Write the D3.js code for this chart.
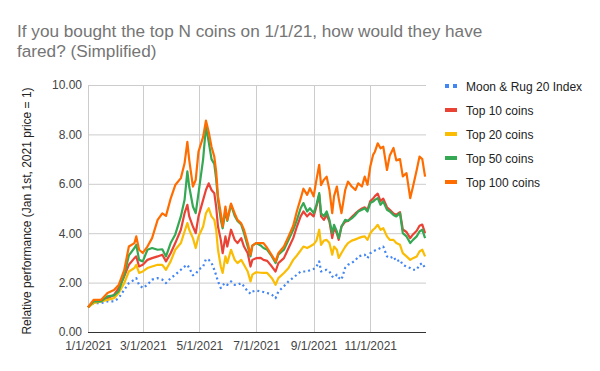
<!DOCTYPE html>
<html><head><meta charset="utf-8">
<script src="https://cdn.jsdelivr.net/npm/d3@7"></script>
<style>body{margin:0;background:#fff}svg{display:block}</style>
</head><body>
<svg id="c" width="600" height="371"></svg>
<script>
// Day offsets from 1 Jan 2021
const dayOffsets = [0,6,14,21,28,33,39,44,50,52,55,59,64,69,75,80,84,89,94,100,104,107,109,113,116,119,124,127,130,133,136,138,140,143,145,148,150,154,158,161,165,168,172,175,177,181,186,189,193,198,202,205,211,216,221,225,229,232,236,239,243,246,249,251,254,257,260,263,265,268,270,273,277,280,284,288,291,295,298,301,304,307,309,312,315,318,322,325,329,332,336,339,343,347,350,354,357,360,363];

const moonRug = [1.0,1.17,1.17,1.24,1.24,1.37,1.71,1.98,2.12,2.18,1.91,1.78,1.91,2.12,2.18,2.12,1.98,2.18,2.32,2.52,2.65,2.72,2.59,2.3,2.35,2.52,2.65,2.95,2.92,2.8,2.52,2.3,2.05,1.78,1.9,1.98,1.91,2.05,1.91,1.91,1.98,1.85,1.64,1.55,1.64,1.68,1.64,1.62,1.58,1.51,1.37,1.64,1.85,2.05,2.2,2.32,2.45,2.45,2.45,2.5,2.55,2.65,2.86,2.45,2.5,2.52,2.45,2.25,2.2,2.32,2.2,2.12,2.6,2.72,2.8,2.9,3.06,3.1,3.13,2.99,3.19,3.26,3.3,3.35,3.4,3.46,3.06,2.99,3.06,2.86,2.92,2.72,2.65,2.59,2.52,2.52,2.72,2.79,2.59];

const top10 = [1.0,1.24,1.3,1.37,1.5,1.78,2.25,2.72,2.99,3.06,2.65,2.72,2.92,2.99,3.06,3.13,2.86,3.19,3.6,4.14,4.81,5.15,4.68,4.27,4.0,4.68,5.35,5.75,6.02,5.75,5.62,5.08,4.27,3.73,3.19,3.87,3.46,4.14,3.73,3.6,3.8,3.46,3.19,2.65,2.92,2.99,3.0,2.92,2.88,2.65,2.45,2.79,2.99,3.4,3.8,4.27,4.68,4.88,4.68,4.81,4.68,5.08,5.55,4.68,4.54,4.74,4.47,3.8,4.2,4.0,3.73,4.27,4.47,4.5,4.65,4.8,4.9,5.0,5.05,4.95,5.3,5.4,5.5,5.6,5.3,5.4,5.05,4.95,4.8,4.75,4.85,4.15,4.05,3.8,3.95,4.1,4.3,4.35,4.0];

const top20 = [1.0,1.17,1.24,1.3,1.37,1.58,1.98,2.45,2.59,2.72,2.39,2.45,2.59,2.65,2.72,2.72,2.52,2.86,3.33,3.6,4.07,4.41,4.14,3.8,3.4,3.87,4.27,4.81,5.01,4.68,4.54,4.14,3.33,2.65,2.39,3.06,2.79,3.33,2.92,2.79,2.92,2.72,2.45,2.05,2.32,2.42,2.4,2.39,2.39,2.18,1.91,2.18,2.39,2.59,2.92,3.1,3.3,3.46,3.4,3.46,3.55,3.7,4.14,3.53,3.7,3.73,3.6,3.13,3.46,3.33,3.0,3.2,3.45,3.6,3.7,3.75,3.8,3.85,3.87,3.73,4.0,4.14,4.2,4.34,4.14,4.2,3.87,3.73,3.73,3.6,3.53,3.19,3.06,2.92,2.99,3.06,3.26,3.33,3.06];

const top50 = [1.0,1.24,1.24,1.44,1.48,1.65,2.3,3.1,3.4,3.53,2.92,2.86,3.33,3.4,3.33,3.35,3.06,3.6,3.95,4.68,5.35,6.5,5.89,5.08,4.81,5.62,7.0,8.32,7.7,7.0,6.8,6.2,5.35,4.54,4.2,4.9,4.5,5.15,4.7,4.5,4.35,4.0,3.46,3.06,3.5,3.6,3.5,3.4,3.33,3.06,2.79,3.13,3.33,3.73,4.14,4.54,5.01,5.22,4.88,5.01,4.81,5.15,5.62,4.81,4.68,4.88,4.54,4.0,4.34,4.07,3.8,4.27,4.54,4.5,4.6,4.74,4.88,4.95,5.01,4.88,5.22,5.28,5.35,5.42,5.15,5.28,4.95,4.88,4.74,4.68,4.81,4.0,3.87,3.6,3.73,3.87,4.07,4.14,3.8];

const top100 = [1.0,1.3,1.3,1.58,1.7,1.9,2.5,3.46,3.6,3.87,3.33,3.2,3.46,3.8,4.54,4.8,4.7,5.4,5.95,6.23,6.83,7.7,6.97,5.89,6.16,7.3,7.9,8.56,8.1,7.5,7.1,6.5,5.5,4.8,4.27,5.08,4.54,5.2,4.8,4.54,4.4,4.14,3.6,3.13,3.5,3.6,3.6,3.6,3.4,3.1,2.86,3.19,3.46,3.87,4.3,4.9,5.4,5.8,5.55,5.82,5.49,6.16,6.77,5.95,6.16,6.29,5.75,4.81,5.5,5.89,5.4,4.81,5.75,6.09,5.89,5.75,6.02,5.89,6.29,5.96,6.7,7.17,7.3,7.64,7.44,7.5,6.56,7.15,7.45,6.95,7.0,6.3,6.43,5.42,5.89,6.56,7.1,7.0,6.29];

const seriesNames = ["Moon & Rug 20 Index","Top 10 coins","Top 20 coins","Top 50 coins","Top 100 coins"];
const seriesColors = ["#4285F4","#EA4335","#FBBC04","#34A853","#FF6D01"];
const seriesValues = [moonRug, top10, top20, top50, top100];
const yTicks = [0,2,4,6,8,10];
const xTickDates = ["2021-01-01","2021-03-01","2021-05-01","2021-07-01","2021-09-01","2021-11-01"];
const titleLines = ["If you bought the top N coins on 1/1/21, how would they have","fared? (Simplified)"];
const yLabel = "Relative performance (Jan 1st, 2021 price = 1)";

const font = "'Liberation Sans', Arial, sans-serif";
const svg = d3.select("#c");
const start = new Date(2021,0,1);
const dates = dayOffsets.map(d => d3.timeDay.offset(start, d));
const x = d3.scaleTime().domain([start, new Date(2021,11,31)]).range([88, 426]);
const y = d3.scaleLinear().domain([0,10]).range([332, 85]);

// title
svg.append("g").selectAll("text").data(titleLines).join("text")
  .attr("x", 17).attr("y", (d,i) => 37 + i*20)
  .attr("font-family", font).attr("font-size", 17.2).attr("fill", "#757575")
  .text(d => d);

// grid
const xt = xTickDates.map(s => d3.timeParse("%Y-%m-%d")(s));
svg.append("g").selectAll("line").data(yTicks.filter(v=>v>0)).join("line")
  .attr("x1", 88).attr("x2", 426).attr("y1", d=>y(d)+0.5).attr("y2", d=>y(d)+0.5)
  .attr("stroke", "#cccccc").attr("stroke-width", 1);
svg.append("g").selectAll("line").data(xt).join("line")
  .attr("x1", d=>Math.round(x(d))+0.5).attr("x2", d=>Math.round(x(d))+0.5)
  .attr("y1", 85).attr("y2", 332).attr("stroke", "#cccccc").attr("stroke-width", 1);

// y axis labels
const yAxis = d3.axisLeft(y).tickValues(yTicks).tickFormat(d3.format(".2f")).tickSize(0).tickPadding(6);
const ya = svg.append("g").attr("transform", "translate(88,0)").call(yAxis);
ya.select(".domain").remove();
ya.selectAll("text").attr("font-family", font).attr("font-size", 12).attr("fill", "#444");

// x axis
const xAxis = d3.axisBottom(x).tickValues(xt).tickFormat(d3.timeFormat("%-m/%-d/%Y")).tickSize(0).tickPadding(6);
const xa = svg.append("g").attr("transform", "translate(0,332)").call(xAxis);
xa.select(".domain").remove();
xa.selectAll("text").attr("font-family", font).attr("font-size", 12).attr("fill", "#444")
  .attr("y", 18).attr("dy", 0);
svg.append("line").attr("x1", 88).attr("x2", 426).attr("y1", 332.5).attr("y2", 332.5)
  .attr("stroke", "#333").attr("stroke-width", 1);

// y label
svg.append("text").attr("transform", "translate(31,211) rotate(-90)")
  .attr("text-anchor", "middle").attr("font-family", font).attr("font-size", 12).attr("fill", "#222")
  .text(yLabel);

// lines
const line = d3.line().x((d,i)=>x(dates[i])).y(d=>y(d));
seriesValues.forEach((vals, k) => {
  svg.append("path").datum(vals).attr("d", line).attr("fill", "none")
    .attr("stroke", seriesColors[k]).attr("stroke-width", 2.2)
    .attr("stroke-linejoin", "round")
    .attr("stroke-dasharray", k===0 ? "2,3" : null);
});

// legend
const lg = svg.append("g").selectAll("g").data(seriesNames).join("g")
  .attr("transform", (d,i) => `translate(445,${86 + i*24})`);
lg.append("line").attr("x1", 0).attr("x2", 12).attr("y1", 0).attr("y2", 0)
  .attr("stroke", (d,i)=>seriesColors[i]).attr("stroke-width", 4)
  .attr("stroke-dasharray", (d,i)=> i===0 ? "4,4" : null);
lg.append("text").attr("x", 21).attr("y", 4.5)
  .attr("font-family", font).attr("font-size", 12).attr("fill", "#222").text(d=>d);
</script>
</body></html>
